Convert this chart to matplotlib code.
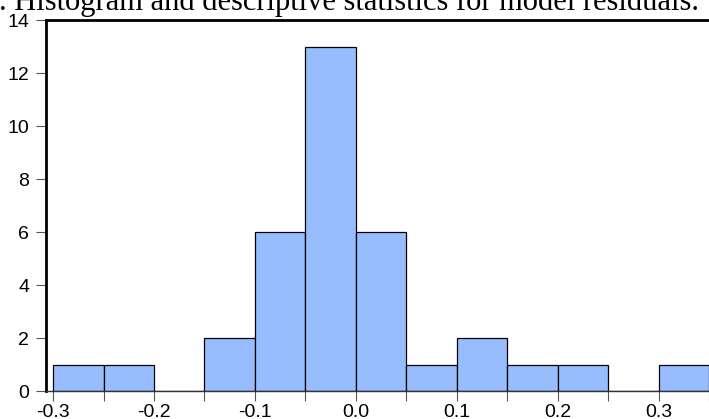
import numpy as np
import matplotlib.pyplot as plt
from matplotlib.ticker import MultipleLocator

# Histogram of residuals (bin width 0.05)
bin_edges = [-0.30, -0.25, -0.20, -0.15, -0.10, -0.05, 0.00,
             0.05, 0.10, 0.15, 0.20, 0.25, 0.30, 0.35]
counts = [1, 1, 0, 2, 6, 13, 6, 1, 2, 1, 1, 0, 1]
xtick_vals = [-0.3, -0.2, -0.1, 0.0, 0.1, 0.2, 0.3]
title_text = ". Histogram and descriptive statistics for model residuals."

bar_color = "#97BDFE"

plt.rcParams["font.family"] = ["Liberation Sans", "DejaVu Sans"]

fig = plt.figure(figsize=(7.09, 4.19), dpi=100)
ax = fig.add_axes([46 / 709, 28 / 419, 1 - 46 / 709, 371 / 419])

left = np.array(bin_edges[:-1])
widths = np.diff(bin_edges)
ax.bar(left, counts, width=widths, align="edge", color=bar_color,
       edgecolor="black", linewidth=0.9, zorder=2)

ax.set_xlim(-0.307, 0.35)
ax.set_ylim(0, 14)

ax.xaxis.set_minor_locator(MultipleLocator(0.05))
ax.yaxis.set_major_locator(MultipleLocator(2))
ax.set_xticks(xtick_vals)
ax.set_xticklabels(["%.1f" % v for v in xtick_vals])

ax.tick_params(axis="both", which="both", direction="out", color="#555555",
               width=0.8, labelsize=14)
ax.tick_params(axis="x", which="both", length=7, pad=2)
ax.tick_params(axis="y", length=7, pad=5)

ax.spines["right"].set_visible(False)
ax.spines["left"].set_linewidth(2)
ax.spines["top"].set_linewidth(2)
ax.spines["bottom"].set_linewidth(1)
ax.spines["bottom"].set_color("#333333")

# caption clipped at the top of the picture, as in the source
fig.text(-0.002, 1 - 10 / 419, title_text, fontfamily="Liberation Serif",
         fontsize=22, va="baseline", ha="left")

fig.savefig("out.png", dpi=100)
